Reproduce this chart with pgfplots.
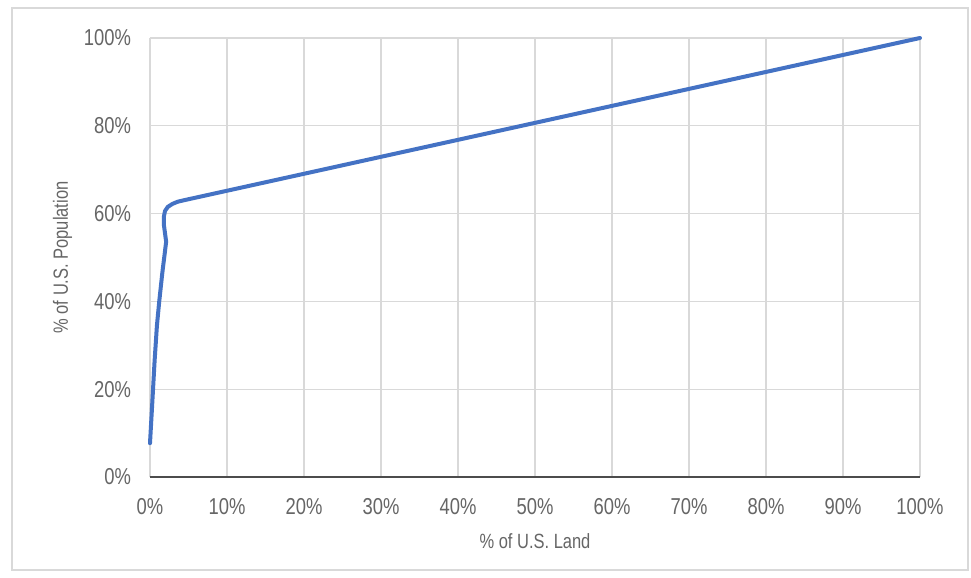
\documentclass[border=0pt]{standalone}
\usepackage{pgfplots}
\pgfplotsset{compat=1.18}
\usepackage{fontspec}
\setmainfont{Liberation Sans}[FakeStretch=0.8]
\definecolor{lineblue}{HTML}{4472C4}
\definecolor{gridgray}{HTML}{D9D9D9}
\definecolor{txtgray}{HTML}{666666}
\definecolor{framegray}{HTML}{D9D9D9}
\begin{document}
\begin{tikzpicture}
\useasboundingbox (-75pt,-50.5pt) rectangle (410.5pt,238.5pt);
\fill[white] (-75pt,-50.5pt) rectangle (410.5pt,238.5pt);
\draw[framegray, line width=1.2pt] (-69pt,-46.5pt) rectangle (409pt,234.5pt);
\begin{axis}[
  scale only axis,
  width=385pt, height=219.5pt,
  xmin=0, xmax=100, ymin=0, ymax=100,
  xtick={0,10,...,100}, ytick={0,20,...,100},
  xticklabel={\pgfmathprintnumber{\tick}\%},
  yticklabel={\pgfmathprintnumber{\tick}\%},
  /pgf/number format/assume math mode=true,
  grid=major,
  major grid style={gridgray, line width=0.6pt},
  axis line style={draw=none},
  tick style={draw=none},
  ticklabel style={font=\fontsize{11.5}{13}\selectfont, text=txtgray},
  xticklabel style={yshift=-7pt},
  yticklabel style={xshift=-6pt},
  xlabel={\% of U.S. Land},
  ylabel={\% of U.S. Population},
  label style={font=\fontsize{10.3}{12}\selectfont, text=txtgray},
  xlabel style={yshift=-2.5pt},
  ylabel style={yshift=-1pt},
  clip=false,
]
\draw[black!70, line width=0.8pt] (axis cs:0,0) -- (axis cs:100,0);
\addplot[lineblue, line width=2pt, line join=round, line cap=round] coordinates {
  (0,7.7) (0.3,17.0) (0.6,26.5) (0.9,34.5) (1.2,40.0) (1.6,46.5) (2.1,53.6)
  (1.95,55.5) (1.8,57.5) (1.8,59.3) (1.95,60.6) (2.3,61.5) (2.9,62.2)
  (3.6,62.7) (4.3,63.0) (100,100)
};
\end{axis}
\end{tikzpicture}
\end{document}
